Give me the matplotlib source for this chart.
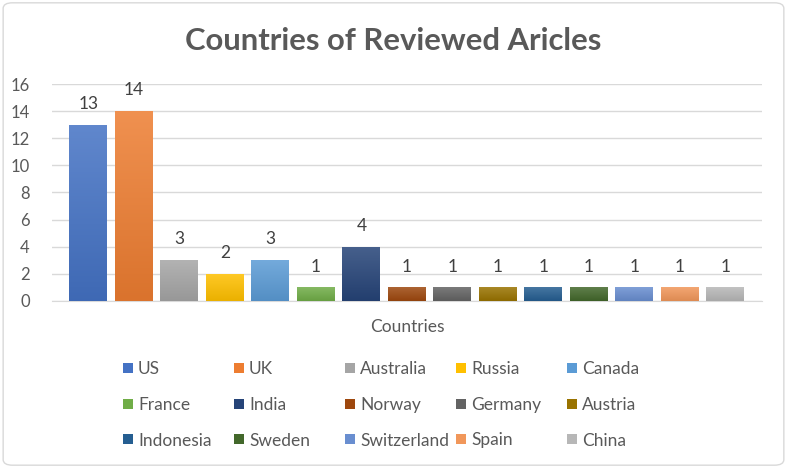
import numpy as np
import matplotlib.pyplot as plt
from matplotlib.colors import to_rgb, LinearSegmentedColormap
from matplotlib.patches import FancyBboxPatch, Rectangle

countries = ['US', 'UK', 'Australia', 'Russia', 'Canada', 'France', 'India', 'Norway',
             'Germany', 'Austria', 'Indonesia', 'Sweden', 'Switzerland', 'Spain', 'China']
articles = [13, 14, 3, 2, 3, 1, 4, 1, 1, 1, 1, 1, 1, 1, 1]
colors = ['#4472C4', '#ED7D31', '#A5A5A5', '#FFC000', '#5B9BD5', '#70AD47', '#264478', '#9E480E',
          '#636363', '#997300', '#255E91', '#43682B', '#698ED0', '#F1975A', '#B7B7B7']

plt.rcParams['font.family'] = ['Lato', 'DejaVu Sans']
txt = '#595959'

fig = plt.figure(figsize=(7.87, 4.68), dpi=100)
ax = fig.add_axes([0.066, 0.357, 0.902, 0.4635])

def shade(c, f):
    r = np.array(to_rgb(c))
    return tuple(r + (1 - r) * f) if f > 0 else tuple(r * (1 + f))

x = np.arange(len(countries))
w = 0.835
bars = ax.bar(x, articles, width=w, color=colors, zorder=2)
for b, c in zip(bars, colors):
    cmap = LinearSegmentedColormap.from_list('g', [shade(c, -0.08), shade(c, 0.15)])
    grad = np.linspace(0, 1, 64).reshape(-1, 1)
    im = ax.imshow(grad, cmap=cmap, origin='lower', aspect='auto', zorder=3,
                   extent=[b.get_x(), b.get_x() + b.get_width(), 0, b.get_height()])
    im.set_clip_path(b)
for xi, v in zip(x, articles):
    ax.annotate(str(v), (xi, v), xytext=(0, 15), textcoords='offset points',
                ha='center', va='center', fontsize=12.5, color='#404040')

ax.set_xlim(-0.8, 14.8)
ax.set_ylim(0, 16)
ax.set_yticks(range(0, 17, 2))
ax.tick_params(axis='y', length=0, labelsize=12, labelcolor=txt, pad=16)
ax.set_xticks([])
ax.grid(axis='y', color='#D9D9D9', linewidth=1, zorder=0)
for s in ['top', 'right', 'left']:
    ax.spines[s].set_visible(False)
ax.spines['bottom'].set_color('#D9D9D9')
ax.set_xlabel('Countries', fontsize=12.5, color=txt, labelpad=13)

fig.text(0.5, 0.913, 'Countries of Reviewed Aricles', ha='center', va='center',
         fontsize=22.3, fontweight='bold', color=txt)

# legend laid out row by row with equal column widths, like Excel
W, H = 787, 468
for i, (name, c) in enumerate(zip(countries, colors)):
    r, k = divmod(i, 5)
    px = 123 + k * 111
    py = 368 + r * 35.5
    fig.patches.append(Rectangle((px / W, (H - py - 5) / H), 10 / W, 10 / H,
                                 transform=fig.transFigure, facecolor=c, edgecolor='none'))
    fig.text((px + 15) / W, (H - py) / H, name, ha='left', va='center_baseline',
             fontsize=12.5, color=txt)

fig.patches.append(FancyBboxPatch((0.004, 0.006), 0.992, 0.988, boxstyle='round,pad=0,rounding_size=0.012',
                                  transform=fig.transFigure, fill=False, edgecolor='#D9D9D9', linewidth=1))

fig.savefig('out.png', dpi=100)
